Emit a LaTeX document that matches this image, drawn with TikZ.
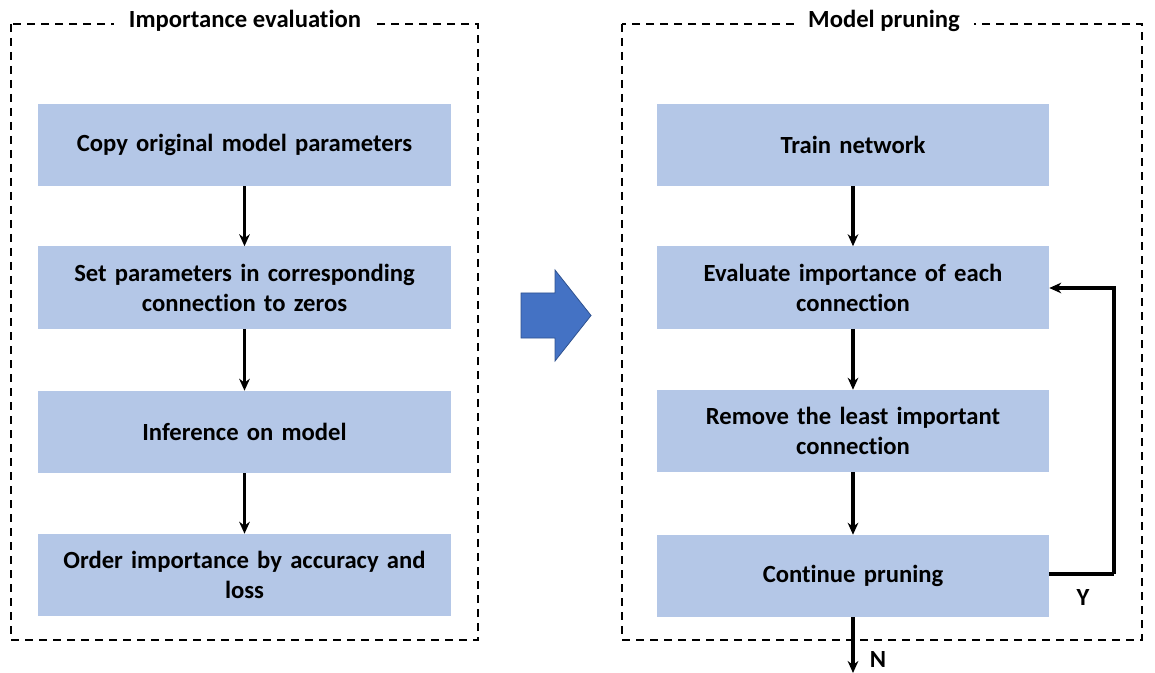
\documentclass[tikz,border=0pt]{standalone}
\usepackage{fontspec}
\setmainfont{Carlito}[Ligatures=NoCommon]
\usetikzlibrary{arrows.meta}
\definecolor{boxblue}{HTML}{B4C7E7}
\definecolor{arrblue}{HTML}{4472C4}
\definecolor{arredge}{HTML}{2F528F}
\begin{document}
\begin{tikzpicture}[x=0.75pt,y=-0.75pt,
  stepbox/.style={fill=boxblue,draw=none,align=center,
    minimum height=61.5pt,inner sep=0pt,font=\fontsize{18.5}{22.5}\selectfont\bfseries},
  lbox/.style={stepbox,minimum width=309.75pt,text width=305pt},
  rbox/.style={stepbox,minimum width=294pt,text width=290pt},
  frame/.style={draw,dashed,dash pattern=on 6pt off 4.5pt,line width=1.1pt},
  ttl/.style={fill=white,inner xsep=11pt,inner ysep=2pt,font=\fontsize{18.5}{22}\selectfont\bfseries},
  conn/.style={line width=2.3pt,-{Stealth[length=9pt,width=8pt]}},
  lbl/.style={font=\fontsize{18.5}{22}\selectfont\bfseries}]
\useasboundingbox (0,0) rectangle (1155,673);
% frames
\draw[frame] (11,24) rectangle (478,640);
\draw[frame] (622,24) rectangle (1142,640);
\node[ttl] (t1) at (245,21) {Importance evaluation};
\node[ttl] (t2) at (884,21) {Model pruning};
% left boxes
\node[lbox] (a1) at (244.5,145) {Copy original model parameters};
\node[lbox] (a2) at (244.5,287.5) {Set parameters in corresponding\\connection to zeros};
\node[lbox] (a3) at (244.5,432) {Inference on model};
\node[lbox] (a4) at (244.5,575) {Order importance by accuracy and\\loss};
\draw[conn] (a1) -- (a2);
\draw[conn] (a2) -- (a3);
\draw[conn] (a3) -- (a4);
% right boxes
\node[rbox] (b1) at (853,145) {Train network};
\node[rbox] (b2) at (853,287.5) {Evaluate importance of each\\connection};
\node[rbox] (b3) at (853,431) {Remove the least important\\connection};
\node[rbox] (b4) at (853,576) {Continue pruning};
\draw[conn] (b1) -- (b2);
\draw[conn] (b2) -- (b3);
\draw[conn] (b3) -- (b4);
\coordinate (fb) at (1114,574);
\draw[line width=2.3pt] (b4.east |- fb) -- (fb);
\draw[conn] (fb) -- (1114,288) -- (b2.east |- 0,288);
\node[lbl] (y) at (1083,597) {Y};
\coordinate (out) at (853,673);
\draw[conn] (b4) -- (out);
\node[lbl] (n) at (878,659) {N};
% big arrow
\draw[fill=arrblue,draw=arredge,line width=0.6pt] (521,293) -- (555,293) -- (555,270) -- (591,315.5) -- (555,361) -- (555,338) -- (521,338) -- cycle;
\end{tikzpicture}
\end{document}
